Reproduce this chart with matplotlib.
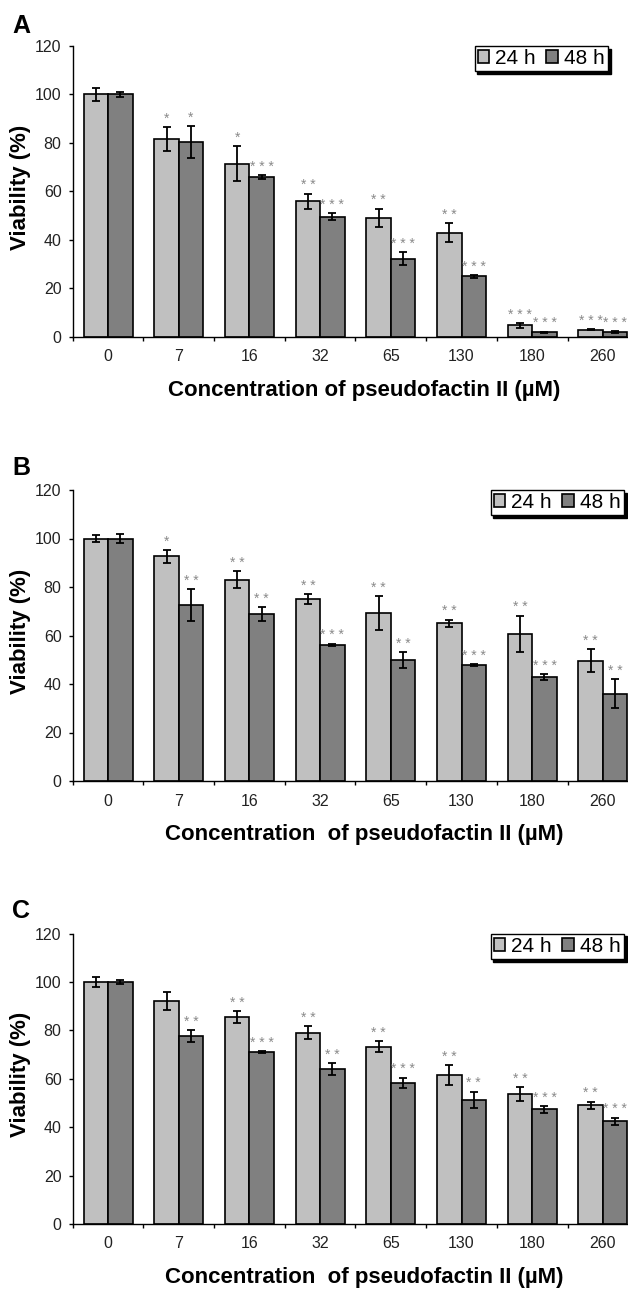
import matplotlib.pyplot as plt
import numpy as np

plt.rcParams['font.family'] = ['Liberation Sans', 'DejaVu Sans']

conc = ['0', '7', '16', '32', '65', '130', '180', '260']

# panel A
a_24 = [100, 81.7, 71.4, 56.0, 49.0, 43.0, 4.7, 2.9]
a_24_err = [2.8, 4.9, 7.2, 3.1, 3.8, 4.0, 1.0, 0.3]
a_48 = [100, 80.5, 65.8, 49.5, 32.2, 24.9, 1.8, 1.8]
a_48_err = [1.0, 6.6, 0.8, 1.4, 2.6, 0.5, 0.3, 0.4]
a_s24 = ['', '*', '*', '**', '**', '**', '***', '***']
a_s48 = ['', '*', '***', '***', '***', '***', '***', '***']

# panel B
b_24 = [100, 92.6, 83.0, 75.0, 69.2, 65.0, 60.7, 49.6]
b_24_err = [1.4, 2.8, 3.6, 2.1, 6.9, 1.5, 7.5, 4.7]
b_48 = [100, 72.6, 68.8, 56.1, 49.9, 47.8, 42.8, 36.0]
b_48_err = [2.0, 6.6, 3.0, 0.5, 3.1, 0.4, 1.2, 5.9]
b_s24 = ['', '*', '**', '**', '**', '**', '**', '**']
b_s48 = ['', '**', '**', '***', '**', '***', '***', '**']

# panel C
c_24 = [100, 92.2, 85.4, 79.0, 73.3, 61.5, 53.6, 49.0]
c_24_err = [2.1, 3.8, 2.5, 2.6, 2.3, 4.2, 2.8, 1.6]
c_48 = [100, 77.7, 71.0, 63.9, 58.4, 51.2, 47.3, 42.5]
c_48_err = [0.7, 2.5, 0.5, 2.4, 2.1, 3.4, 1.5, 1.4]
c_s24 = ['', '', '**', '**', '**', '**', '**', '**']
c_s48 = ['', '**', '***', '**', '***', '**', '***', '***']

xlabels = ['Concentration of pseudofactin II (\u00b5M)',
           'Concentration  of pseudofactin II (\u00b5M)',
           'Concentration  of pseudofactin II (\u00b5M)']

W, H = 628, 1290
fig = plt.figure(figsize=(W / 100, H / 100), dpi=100)

# letter, axis top px, axis bottom px, letter baseline px, legend right px
layout = [('A', 46, 336.7, 33, 608),
          ('B', 490, 781, 475, 624),
          ('C', 933.5, 1224, 918, 624)]
data = [(a_24, a_24_err, a_48, a_48_err, a_s24, a_s48),
        (b_24, b_24_err, b_48, b_48_err, b_s24, b_s48),
        (c_24, c_24_err, c_48, c_48_err, c_s24, c_s48)]

left_px = 72.7
width_px = 565.6
w = 0.3465
x = np.arange(len(conc))

for (letter, top, bot, lbase, lright), (v24, e24, v48, e48, s24, s48), xl in zip(layout, data, xlabels):
    ax = fig.add_axes([left_px / W, 1 - bot / H, width_px / W, (bot - top) / H])
    ekw = dict(ecolor='black', elinewidth=1.3, capsize=2.7, capthick=1.3)
    ax.bar(x - w / 2, v24, w, yerr=e24, color='#c0c0c0', edgecolor='black',
           linewidth=1.2, error_kw=ekw, label='24 h')
    ax.bar(x + w / 2, v48, w, yerr=e48, color='#808080', edgecolor='black',
           linewidth=1.2, error_kw=ekw, label='48 h')

    for i in range(len(conc)):
        if s24[i]:
            ax.annotate(' '.join(s24[i]), (x[i] - w / 2, v24[i] + e24[i]), xytext=(0, 6),
                        textcoords='offset points', ha='center', va='center',
                        fontsize=10, color='#8a8a8a', annotation_clip=False)
        if s48[i]:
            ax.annotate(' '.join(s48[i]), (x[i] + w / 2, v48[i] + e48[i]), xytext=(0, 6),
                        textcoords='offset points', ha='center', va='center',
                        fontsize=10, color='#8a8a8a', annotation_clip=False)

    ax.set_xlim(-0.5, 7.5)
    ax.set_ylim(0, 120)
    ax.set_yticks(range(0, 121, 20))
    ax.set_xticks(x)
    ax.set_xticklabels(conc)
    ax.set_xticks(np.arange(-0.5, 8, 1), minor=True)
    ax.tick_params(axis='x', which='major', length=0, pad=9, labelsize=11.5, labelcolor='#222222')
    ax.tick_params(axis='x', which='minor', length=3, width=1, direction='out')
    ax.tick_params(axis='y', length=3, width=1, pad=5, labelsize=11.5, labelcolor='#222222')
    ax.spines['top'].set_visible(False)
    ax.spines['right'].set_visible(False)
    ax.spines['left'].set_linewidth(1)
    ax.spines['bottom'].set_linewidth(1)

    leg = ax.legend(loc='upper right', bbox_to_anchor=(lright / W, 1 - top / H),
                    bbox_transform=fig.transFigure, ncol=2, fontsize=15,
                    fancybox=False, shadow={'color': 'black', 'alpha': 1},
                    edgecolor='black', framealpha=1, borderpad=0.15,
                    handlelength=0.55, handleheight=0.55, handletextpad=0.3,
                    columnspacing=0.5, borderaxespad=0)
    leg.get_frame().set_linewidth(1)

    fig.text(12 / W, 1 - lbase / H, letter, fontsize=18, fontweight='bold',
             ha='left', va='baseline')
    fig.text(364 / W, 1 - (bot + 59) / H, xl, fontsize=16, fontweight='bold',
             ha='center', va='baseline')
    fig.text(21 / W, 1 - ((top + bot) / 2 - 4) / H, 'Viability (%)', rotation=90,
             fontsize=16, fontweight='bold', ha='center', va='center')

fig.savefig('out.png', dpi=100)
